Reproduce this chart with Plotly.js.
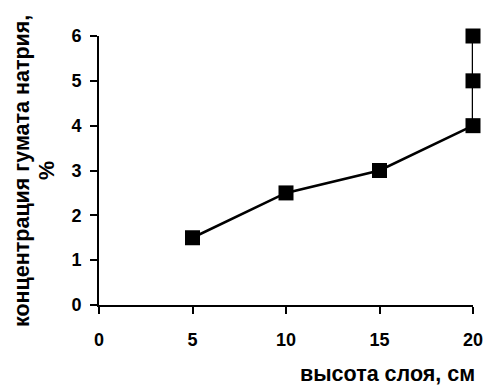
<!DOCTYPE html>
<html>
<head>
<meta charset="utf-8">
<script src="https://cdn.plot.ly/plotly-3.0.1.min.js"></script>
<style>html,body{margin:0;padding:0;background:#fff;}#chart{width:485px;height:385px;}</style>
</head>
<body>
<div id="chart"></div>
<script>
var heights = [5, 10, 15, 20, 20, 20];
var concentrations = [1.5, 2.5, 3, 4, 5, 6];
var xTicks = [0, 5, 10, 15, 20];
var yTicks = [0, 1, 2, 3, 4, 5, 6];
var xTitle = 'высота слоя, см';
var yTitleLine1 = 'концентрация гумата натрия,';
var yTitleLine2 = '%';

var fam = 'Liberation Sans';
var pw = 485 - 99 - 12, ph = 385 - 36 - 80;
function px(x) { return (x - 99) / pw; }
function py(y) { return (305 - y) / ph; }

function titleFont() { return {family: fam, size: 21.5, color: '#000', weight: 'bold'}; }
function tickFont() { return {family: fam, size: 18, color: '#000', weight: 'bold'}; }

function makeAnnotations() {
  return [
    {text: xTitle, xref: 'paper', yref: 'paper', x: px(387), y: py(374),
     xanchor: 'center', yanchor: 'middle', showarrow: false, font: titleFont()},
    {text: yTitleLine1, xref: 'paper', yref: 'paper', textangle: -90, x: px(22), y: py(171),
     xanchor: 'center', yanchor: 'middle', showarrow: false, font: titleFont()},
    {text: yTitleLine2, xref: 'paper', yref: 'paper', textangle: -90, x: px(47), y: py(171),
     xanchor: 'center', yanchor: 'middle', showarrow: false, font: titleFont()}
  ];
}

// style settings applied on top of a minimal base
var extras = [
  {path: 'layout.annotations', val: makeAnnotations, force: true},
  {path: 'trace.line', val: function () { return {color: '#000', width: 2.5}; }, force: true},
  {path: 'trace.marker', val: function () { return {symbol: 'square', size: 15, color: '#000'}; }, force: true},
  {path: 'layout.xaxis.showgrid', val: false}, {path: 'layout.yaxis.showgrid', val: false},
  {path: 'layout.xaxis.zeroline', val: false}, {path: 'layout.yaxis.zeroline', val: false},
  {path: 'layout.xaxis.showline', val: true}, {path: 'layout.yaxis.showline', val: true},
  {path: 'layout.xaxis.linecolor', val: '#000'}, {path: 'layout.yaxis.linecolor', val: '#000'},
  {path: 'layout.xaxis.linewidth', val: 2}, {path: 'layout.yaxis.linewidth', val: 2},
  {path: 'layout.xaxis.tickcolor', val: '#000'}, {path: 'layout.yaxis.tickcolor', val: '#000'},
  {path: 'layout.xaxis.ticklen', val: 7}, {path: 'layout.yaxis.ticklen', val: 7},
  {path: 'layout.xaxis.tickwidth', val: 2}, {path: 'layout.yaxis.tickwidth', val: 2},
  {path: 'layout.xaxis.ticklabelstandoff', val: 10}, {path: 'layout.yaxis.ticklabelstandoff', val: 5},
  {path: 'layout.paper_bgcolor', val: '#fff'}, {path: 'layout.plot_bgcolor', val: '#fff'},
  {path: 'trace.cliponaxis', val: false}
];

function setPath(root, path, val) {
  var parts = path.split('.');
  var o = root;
  for (var i = 0; i < parts.length - 1; i++) {
    if (!o[parts[i]]) o[parts[i]] = {};
    o = o[parts[i]];
  }
  o[parts[parts.length - 1]] = (typeof val === 'function') ? val() : val;
}

function build(acc) {
  var root = {
    trace: {x: heights, y: concentrations, mode: 'lines+markers', type: 'scatter'},
    layout: {
      width: 485, height: 385,
      margin: {l: 99, r: 12, t: 36, b: 80},
      showlegend: false,
      font: {family: fam, size: 18, color: '#000', weight: 'bold'},
      xaxis: {range: [0, 20], tickvals: xTicks, ticks: 'outside', tickfont: tickFont()},
      yaxis: {range: [0, 6], tickvals: yTicks, ticks: 'outside', tickfont: tickFont()}
    }
  };
  acc.forEach(function (e) { setPath(root, e.path, e.val); });
  return root;
}

function render(acc) {
  var r = build(acc);
  return Plotly.newPlot('chart', [r.trace], r.layout, {displayModeBar: false, staticPlot: true});
}

function labelsOk() {
  var nodes = document.querySelectorAll('#chart .xtick text');
  for (var i = 0; i < nodes.length; i++) {
    if (nodes[i].textContent === '10') {
      try { return nodes[i].getBBox().width > 17; } catch (err) { return false; }
    }
  }
  return false;
}

function fallback() {
  if (labelsOk()) return;
  var nodes = document.querySelectorAll('#chart .xtick text, #chart .ytick text');
  for (var i = 0; i < nodes.length; i++) {
    nodes[i].style.fontSize = '18px';
    nodes[i].style.fontWeight = 'bold';
    nodes[i].style.fontFamily = '"Liberation Sans"';
  }
}

var accepted = extras.filter(function (e) { return e.force; });
render(accepted).then(function () {
  if (!labelsOk()) {
    accepted = extras.slice();
    return render(accepted).then(fallback);
  }
  var seq = Promise.resolve();
  extras.forEach(function (e) {
    if (e.force) return;
    seq = seq.then(function () {
      var trial = accepted.concat([e]);
      return render(trial).then(function () { if (labelsOk()) accepted = trial; });
    });
  });
  return seq.then(function () { return render(accepted); }).then(fallback);
});
</script>
</body>
</html>
